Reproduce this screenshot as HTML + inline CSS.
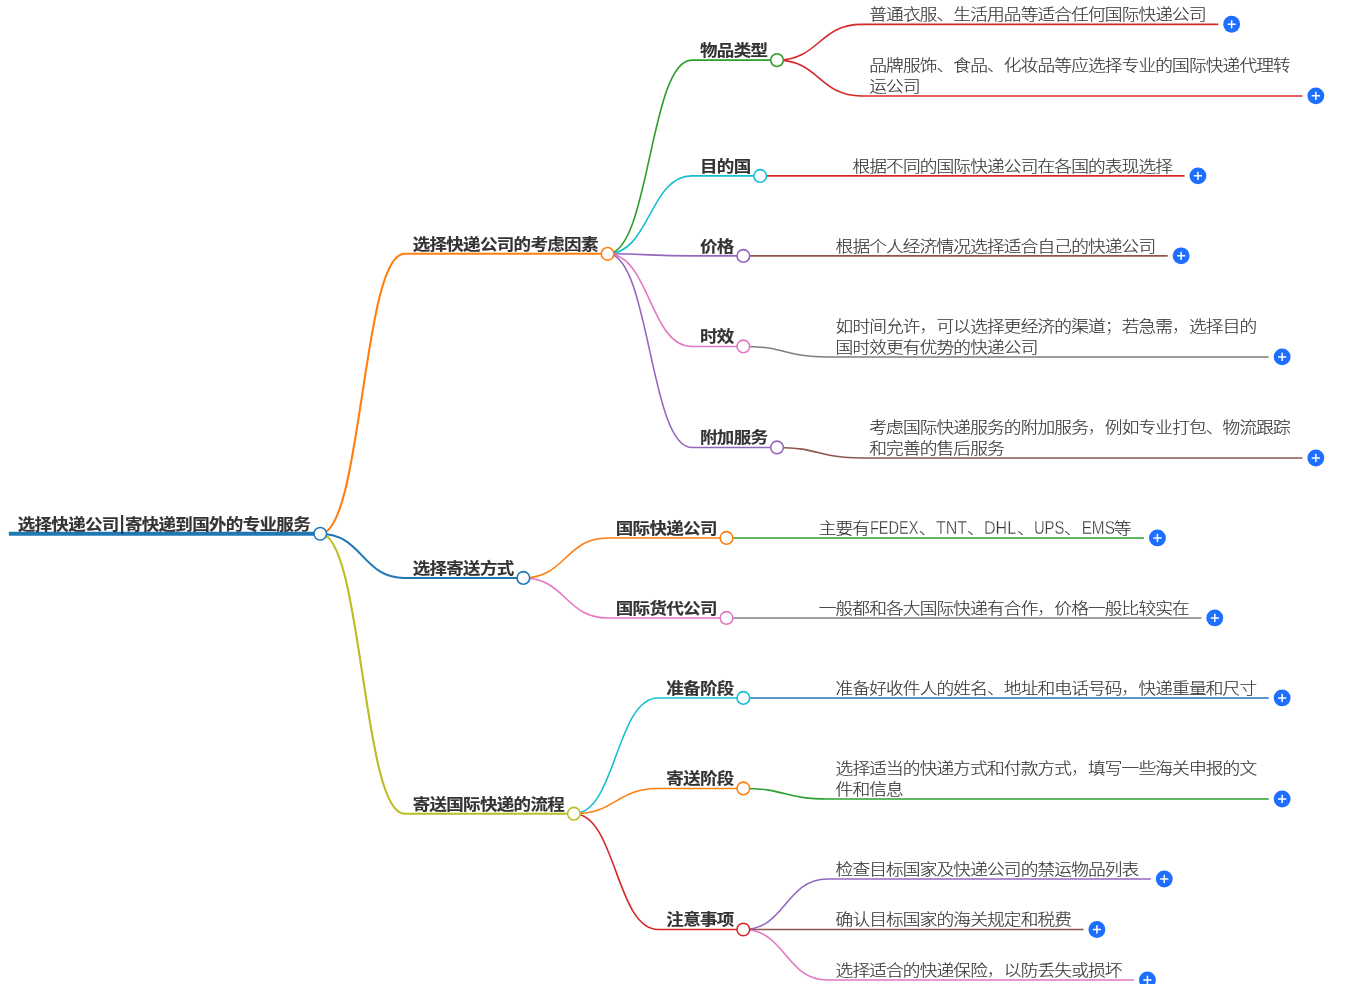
<!DOCTYPE html>
<html lang="zh-CN">
<head>
<meta charset="utf-8">
<title>选择快递公司|寄快递到国外的专业服务</title>
<style>
html,body{margin:0;padding:0;background:#fff;}
body{width:1369px;height:984px;overflow:hidden;}
svg{display:block;will-change:transform;font-family:"Liberation Sans","Noto Sans CJK SC",sans-serif;}
text{font-size:16.84px;fill:#333;white-space:pre;}
tspan.t{font-weight:100;stroke-width:0.1px;}
tspan.e{font-weight:400;font-size:19.92px;letter-spacing:0;stroke:#fff;stroke-width:0.4px;}
tspan.p{font-size:21.07px;letter-spacing:0;stroke:none;}
text.b{font-weight:700;stroke:#333;stroke-width:0.14px;letter-spacing:-0.65px;}
text.l{font-weight:300;stroke:#333;stroke-width:0.15px;letter-spacing:-0.8px;}
.links path,.lines line{fill:none;}
.circles circle{fill:#fff;stroke-width:1.58;}
</style>
</head>
<body>
<svg width="1369" height="984" viewBox="0 0 1369 984">
<g class="links">
<path d="M320.23,533.76C362.33,533.76 362.33,253.8 404.43,253.8H607.57" stroke="#ff7f0e" stroke-width="2.1"/>
<path d="M607.57,253.8C649.67,253.8 649.67,60.13 691.77,60.13H777.02" stroke="#2ca02c" stroke-width="1.58"/>
<path d="M777.02,60.13C819.12,60.13 819.12,24.35 861.22,24.35H1218.23" stroke="#d62728" stroke-width="1.58"/>
<path d="M777.02,60.13C819.12,60.13 819.12,95.92 861.22,95.92H1302.43" stroke="#d62728" stroke-width="1.58"/>
<path d="M607.57,253.8C649.67,253.8 649.67,175.91 691.77,175.91H760.18" stroke="#17becf" stroke-width="1.58"/>
<path d="M760.18,175.91C802.28,175.91 802.28,175.91 844.38,175.91H1184.55" stroke="#d62728" stroke-width="1.58"/>
<path d="M607.57,253.8C649.67,253.8 649.67,255.9 691.77,255.9H743.34" stroke="#9467bd" stroke-width="1.58"/>
<path d="M743.34,255.9C785.44,255.9 785.44,255.9 827.54,255.9H1167.71" stroke="#8c564b" stroke-width="1.58"/>
<path d="M607.57,253.8C649.67,253.8 649.67,346.42 691.77,346.42H743.34" stroke="#e377c2" stroke-width="1.58"/>
<path d="M743.34,346.42C785.44,346.42 785.44,356.94 827.54,356.94H1268.75" stroke="#7f7f7f" stroke-width="1.58"/>
<path d="M607.57,253.8C649.67,253.8 649.67,447.45 691.77,447.45H777.02" stroke="#9467bd" stroke-width="1.58"/>
<path d="M777.02,447.45C819.12,447.45 819.12,457.98 861.22,457.98H1302.43" stroke="#8c564b" stroke-width="1.58"/>
<path d="M320.23,533.76C362.33,533.76 362.33,577.96 404.43,577.96H523.37" stroke="#1f77b4" stroke-width="2.1"/>
<path d="M523.37,577.96C565.47,577.96 565.47,537.97 607.57,537.97H726.5" stroke="#ff7f0e" stroke-width="1.58"/>
<path d="M726.5,537.97C768.6,537.97 768.6,537.97 810.7,537.97H1144.03" stroke="#2ca02c" stroke-width="1.58"/>
<path d="M523.37,577.96C565.47,577.96 565.47,617.96 607.57,617.96H726.5" stroke="#e377c2" stroke-width="1.58"/>
<path d="M726.5,617.96C768.6,617.96 768.6,617.96 810.7,617.96H1201.39" stroke="#7f7f7f" stroke-width="1.58"/>
<path d="M320.23,533.76C362.33,533.76 362.33,813.72 404.43,813.72H573.89" stroke="#bcbd22" stroke-width="2.1"/>
<path d="M573.89,813.72C615.99,813.72 615.99,697.95 658.09,697.95H743.34" stroke="#17becf" stroke-width="1.58"/>
<path d="M743.34,697.95C785.44,697.95 785.44,697.95 827.54,697.95H1268.75" stroke="#1f77b4" stroke-width="1.58"/>
<path d="M573.89,813.72C615.99,813.72 615.99,788.46 658.09,788.46H743.34" stroke="#ff7f0e" stroke-width="1.58"/>
<path d="M743.34,788.46C785.44,788.46 785.44,798.99 827.54,798.99H1268.75" stroke="#2ca02c" stroke-width="1.58"/>
<path d="M573.89,813.72C615.99,813.72 615.99,929.5 658.09,929.5H743.34" stroke="#d62728" stroke-width="1.58"/>
<path d="M743.34,929.5C785.44,929.5 785.44,878.98 827.54,878.98H1150.87" stroke="#9467bd" stroke-width="1.58"/>
<path d="M743.34,929.5C785.44,929.5 785.44,929.5 827.54,929.5H1083.51" stroke="#8c564b" stroke-width="1.58"/>
<path d="M743.34,929.5C785.44,929.5 785.44,980.02 827.54,980.02H1134.03" stroke="#e377c2" stroke-width="1.58"/>
</g>
<g class="lines">
<line x1="8.8" y1="533.76" x2="320.23" y2="533.76" stroke="#1f77b4" stroke-width="4.21"/>
</g>
<g class="circles">
<circle cx="320.23" cy="533.76" r="6.31" stroke="#1f77b4"/>
<circle cx="607.57" cy="253.8" r="6.31" stroke="#ff7f0e"/>
<circle cx="777.02" cy="60.13" r="6.31" stroke="#2ca02c"/>
<circle cx="760.18" cy="175.91" r="6.31" stroke="#17becf"/>
<circle cx="743.34" cy="255.9" r="6.31" stroke="#9467bd"/>
<circle cx="743.34" cy="346.42" r="6.31" stroke="#e377c2"/>
<circle cx="777.02" cy="447.45" r="6.31" stroke="#9467bd"/>
<circle cx="523.37" cy="577.96" r="6.31" stroke="#1f77b4"/>
<circle cx="726.5" cy="537.97" r="6.31" stroke="#ff7f0e"/>
<circle cx="726.5" cy="617.96" r="6.31" stroke="#e377c2"/>
<circle cx="573.89" cy="813.72" r="6.31" stroke="#bcbd22"/>
<circle cx="743.34" cy="697.95" r="6.31" stroke="#17becf"/>
<circle cx="743.34" cy="788.46" r="6.31" stroke="#ff7f0e"/>
<circle cx="743.34" cy="929.5" r="6.31" stroke="#d62728"/>
</g>
<g class="texts">
<text class="b" transform="translate(17.7,530) scale(1.04,0.935)">选择快递公司<tspan class="p" x="98.08" textLength="4.53" lengthAdjust="spacingAndGlyphs">|</tspan><tspan x="103.08">寄快递到国外的专业服务</tspan></text>
<text class="b" transform="translate(412.65,250) scale(1.04,0.935)">选择快递公司的考虑因素</text>
<text class="b" transform="translate(699.99,56) scale(1.04,0.935)">物品类型</text>
<text class="l" transform="translate(869.24,20) scale(1.05,0.93)">普通衣服、生活用品等适合任何国际快递公司</text>
<text class="l" transform="translate(869.24,71) scale(1.05,0.93)">品牌服饰、食品、化妆品等应选择专业的国际快递代理转<tspan x="0" y="22.58">运公司</tspan></text>
<text class="b" transform="translate(699.99,172) scale(1.04,0.935)">目的国</text>
<text class="l" transform="translate(852.4,172) scale(1.05,0.93)">根据不同的国际快递公司在各国的表现选择</text>
<text class="b" transform="translate(699.99,252) scale(1.04,0.935)">价格</text>
<text class="l" transform="translate(835.56,252) scale(1.05,0.93)">根据个人经济情况选择适合自己的快递公司</text>
<text class="b" transform="translate(699.99,342) scale(1.04,0.935)">时效</text>
<text class="l" transform="translate(835.56,332) scale(1.05,0.93)">如时间允许<tspan class="t">，</tspan>可以选择更经济的渠道<tspan class="t">；</tspan>若急需<tspan class="t">，</tspan>选择目的<tspan x="0" y="22.58">国时效更有优势的快递公司</tspan></text>
<text class="b" transform="translate(699.99,443) scale(1.04,0.935)">附加服务</text>
<text class="l" transform="translate(869.24,433) scale(1.05,0.93)">考虑国际快递服务的附加服务<tspan class="t">，</tspan>例如专业打包、物流跟踪<tspan x="0" y="22.58">和完善的售后服务</tspan></text>
<text class="b" transform="translate(412.65,574) scale(1.04,0.935)">选择寄送方式</text>
<text class="b" transform="translate(615.79,534) scale(1.04,0.935)">国际快递公司</text>
<text class="l" transform="translate(818.72,534) scale(1.05,0.93)">主要有<tspan class="e" x="48.76" textLength="46.21" lengthAdjust="spacingAndGlyphs">FEDEX</tspan><tspan x="95.36">、</tspan><tspan class="e" x="111.66" textLength="29.68" lengthAdjust="spacingAndGlyphs">TNT</tspan><tspan x="141.17">、</tspan><tspan class="e" x="157.41" textLength="30.68" lengthAdjust="spacingAndGlyphs">DHL</tspan><tspan x="188.79">、</tspan><tspan class="e" x="204.93" textLength="29" lengthAdjust="spacingAndGlyphs">UPS</tspan><tspan x="233.55">、</tspan><tspan class="e" x="250.42" textLength="31.63" lengthAdjust="spacingAndGlyphs">EMS</tspan><tspan x="281.03">等</tspan></text>
<text class="b" transform="translate(615.79,614) scale(1.04,0.935)">国际货代公司</text>
<text class="l" transform="translate(818.72,614) scale(1.05,0.93)">一般都和各大国际快递有合作<tspan class="t">，</tspan>价格一般比较实在</text>
<text class="b" transform="translate(412.65,810) scale(1.04,0.935)">寄送国际快递的流程</text>
<text class="b" transform="translate(666.31,694) scale(1.04,0.935)">准备阶段</text>
<text class="l" transform="translate(835.56,694) scale(1.05,0.93)">准备好收件人的姓名、地址和电话号码<tspan class="t">，</tspan>快递重量和尺寸</text>
<text class="b" transform="translate(666.31,784) scale(1.04,0.935)">寄送阶段</text>
<text class="l" transform="translate(835.56,774) scale(1.05,0.93)">选择适当的快递方式和付款方式<tspan class="t">，</tspan>填写一些海关申报的文<tspan x="0" y="22.58">件和信息</tspan></text>
<text class="b" transform="translate(666.31,925) scale(1.04,0.935)">注意事项</text>
<text class="l" transform="translate(835.56,875) scale(1.05,0.93)">检查目标国家及快递公司的禁运物品列表</text>
<text class="l" transform="translate(835.56,925) scale(1.05,0.93)">确认目标国家的海关规定和税费</text>
<text class="l" transform="translate(835.56,976) scale(1.05,0.93)">选择适合的快递保险<tspan class="t">，</tspan>以防丢失或损坏</text>
</g>
<g class="plus">
<g transform="translate(1231.63,24.3)"><circle r="8.45" fill="#1e6fff"/><path d="M-4.1,0H4.1M0,-4.1V4.1" stroke="#fff" stroke-width="1.5" fill="none"/></g>
<g transform="translate(1315.83,95.87)"><circle r="8.45" fill="#1e6fff"/><path d="M-4.1,0H4.1M0,-4.1V4.1" stroke="#fff" stroke-width="1.5" fill="none"/></g>
<g transform="translate(1197.95,175.86)"><circle r="8.45" fill="#1e6fff"/><path d="M-4.1,0H4.1M0,-4.1V4.1" stroke="#fff" stroke-width="1.5" fill="none"/></g>
<g transform="translate(1181.11,255.85)"><circle r="8.45" fill="#1e6fff"/><path d="M-4.1,0H4.1M0,-4.1V4.1" stroke="#fff" stroke-width="1.5" fill="none"/></g>
<g transform="translate(1282.15,356.89)"><circle r="8.45" fill="#1e6fff"/><path d="M-4.1,0H4.1M0,-4.1V4.1" stroke="#fff" stroke-width="1.5" fill="none"/></g>
<g transform="translate(1315.83,457.93)"><circle r="8.45" fill="#1e6fff"/><path d="M-4.1,0H4.1M0,-4.1V4.1" stroke="#fff" stroke-width="1.5" fill="none"/></g>
<g transform="translate(1157.43,537.92)"><circle r="8.45" fill="#1e6fff"/><path d="M-4.1,0H4.1M0,-4.1V4.1" stroke="#fff" stroke-width="1.5" fill="none"/></g>
<g transform="translate(1214.79,617.91)"><circle r="8.45" fill="#1e6fff"/><path d="M-4.1,0H4.1M0,-4.1V4.1" stroke="#fff" stroke-width="1.5" fill="none"/></g>
<g transform="translate(1282.15,697.9)"><circle r="8.45" fill="#1e6fff"/><path d="M-4.1,0H4.1M0,-4.1V4.1" stroke="#fff" stroke-width="1.5" fill="none"/></g>
<g transform="translate(1282.15,798.94)"><circle r="8.45" fill="#1e6fff"/><path d="M-4.1,0H4.1M0,-4.1V4.1" stroke="#fff" stroke-width="1.5" fill="none"/></g>
<g transform="translate(1164.27,878.93)"><circle r="8.45" fill="#1e6fff"/><path d="M-4.1,0H4.1M0,-4.1V4.1" stroke="#fff" stroke-width="1.5" fill="none"/></g>
<g transform="translate(1096.91,929.45)"><circle r="8.45" fill="#1e6fff"/><path d="M-4.1,0H4.1M0,-4.1V4.1" stroke="#fff" stroke-width="1.5" fill="none"/></g>
<g transform="translate(1147.43,979.97)"><circle r="8.45" fill="#1e6fff"/><path d="M-4.1,0H4.1M0,-4.1V4.1" stroke="#fff" stroke-width="1.5" fill="none"/></g>
</g>
</svg>
</body>
</html>
